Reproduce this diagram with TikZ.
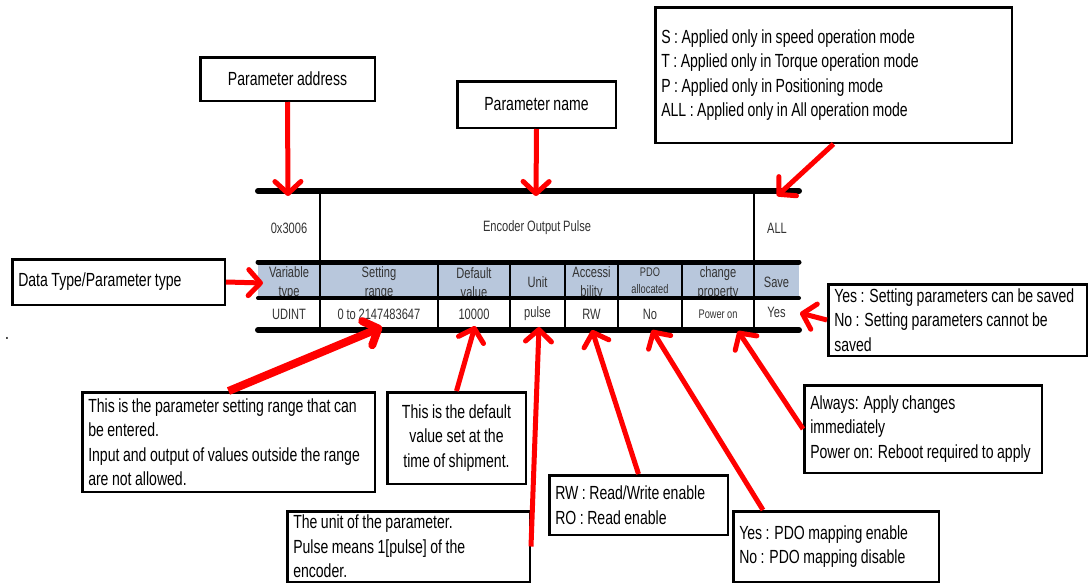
\documentclass[tikz,border=0pt]{standalone}
\usepackage{fontspec}
\setmainfont{Liberation Sans}[FakeStretch=0.74, WordSpace=0.9]
\usepackage{xcolor}
\usetikzlibrary{arrows.meta,positioning,calc}
\definecolor{hdrblue}{RGB}{184,199,220}
\newcommand{\notefont}{\fontsize{19}{24.5}\selectfont}
\newcommand{\cellfont}{\fontsize{15}{19}\selectfont}
\newcommand{\smallcellfont}{\fontsize{12.5}{17}\selectfont}

\begin{document}
\begin{tikzpicture}[
  x=1pt, y=-1pt,
  note/.style={draw, line width=2.5pt, align=flush left, inner xsep=6pt, inner ysep=0pt,
               font=\notefont},
  cnote/.style={note, align=flush center},
  cell/.style={inner sep=0pt, align=center, font=\cellfont, text=black!80},
  bar/.style={line width=6pt, line cap=round},
  sep/.style={line width=1.2pt},
  ar/.style={red, line width=5pt, -{Straight Barb[length=12pt, width=26pt, round]}}
]
  \useasboundingbox (0,0) rectangle (1090,584);
  \fill[white] (0,0) rectangle (1090,584);

  \node[cnote, text width=162.5pt, minimum height=43.5pt] (paddr) at (287.5,79) {Parameter address};
  \node[cnote, text width=146.5pt, minimum height=46.5pt] (pname) at (536.5,104.5) {Parameter name};
  \node[note, text width=344.5pt, minimum height=135.5pt] (modes) at (833.5,75)
    {S : Applied only in speed operation mode\\T : Applied only in Torque operation mode\\
     P : Applied only in Positioning mode\\ALL : Applied only in All operation mode};
  \node[note, text width=200.5pt, minimum height=45.5pt] (dtype) at (118.5,282) {Data Type/Parameter type};
  \node[note, text width=246.5pt, minimum height=71.5pt] (savenote) at (957.5,320)
    {Yes : Setting parameters can be saved\\No : Setting parameters cannot be\\saved};
  \node[note, text width=280.5pt, minimum height=99.5pt] (rng) at (228.5,442)
    {This is the parameter setting range that can\\be entered.\\
     Input and output of values outside the range\\are not allowed.};
  \node[cnote, text width=126.5pt, minimum height=91.5pt] (defval) at (456.5,438)
    {This is the default\\value set at the\\time of shipment.};
  \node[note, text width=230.5pt, minimum height=70.5pt] (unitnote) at (408.5,546.5)
    {The unit of the parameter.\\Pulse means 1[pulse] of the\\encoder.};
  \node[note, text width=166.5pt, minimum height=59.5pt] (rwnote) at (638.5,505)
    {RW : Read/Write enable\\RO : Read enable};
  \node[note, text width=193.5pt, minimum height=70.5pt] (pdonote) at (836,546.5)
    {Yes : PDO mapping enable\\No : PDO mapping disable};
  \node[note, text width=225.5pt, minimum height=87.5pt] (chgnote) at (923,429)
    {Always: Apply changes\\immediately\\Power on: Reboot required to apply};
  \node[anchor=base, inner sep=0pt, font=\notefont] (stray) at (7,339) {.};

  \fill[hdrblue] (258,264) rectangle (799,297);
  \node[cell] (addr) at (289,228) {0x3006};
  \node[cell] (name) at (537,228) {Encoder Output Pulse};
  \node[cell] (mode) at (777,228) {ALL};
  \node[cell] (hvar) at (289,283) {Variable\\type};
  \node[cell] (hrng) at (379,283) {Setting\\range};
  \node[cell] (hdef) at (474,283) {Default\\value};
  \node[cell] (hunit) at (537.5,282) {Unit};
  \node[cell] (hacc) at (591.5,283) {Accessi\\bility};
  \node[cell, font=\smallcellfont] (hpdo) at (650,281) {PDO\\allocated};
  \node[cell] (hchg) at (718,283) {change\\property};
  \node[cell] (hsave) at (776.5,282) {Save};
  \node[cell] (dvar) at (289,314) {UDINT};
  \node[cell] (drng) at (379,314) {0 to 2147483647};
  \node[cell] (ddef) at (474,314) {10000};
  \node[cell] (dunit) at (537.5,314) {pulse};
  \node[cell] (dacc) at (591.5,314) {RW};
  \node[cell] (dpdo) at (650,314) {No};
  \node[cell, font=\smallcellfont] (dchg) at (718,314) {Power on};
  \node[cell] (dsave) at (776.5,312) {Yes};

  \foreach \x in {320,754} \draw[sep] (\x,191) -- (\x,262);
  \foreach \x in {320,438,510,565,618,682,754} \draw[sep] (\x,262) -- (\x,330);
  \draw[bar] (258,191) -- (799,191);
  \draw[bar, line width=5pt] (258,262) -- (799,262);
  \draw[bar, line width=4pt] (258,298) -- (799,298);
  \draw[bar] (258,330) -- (799,330);

  \coordinate (addrtip) at (288,196);
  \coordinate (nametip) at (536,196);
  \coordinate (modetip) at (777,196);
  \coordinate (vartip) at (263,283);
  \coordinate (rngtip) at (382,327);
  \coordinate (deftip) at (475,326);
  \coordinate (unittip) at (539,327);
  \coordinate (acctip) at (592,330);
  \coordinate (pdotip) at (652,330);
  \coordinate (chgtip) at (738,331);
  \coordinate (savetip) at (800,313);

  \draw[ar] (paddr.south) -- (addrtip);
  \draw[ar] (pname.south) -- (nametip);
  \draw[ar] (modes.south) -- (modetip);
  \draw[ar] (dtype.east) -- (vartip);
  \draw[ar, line width=8pt] (rng.north) -- (rngtip);
  \draw[ar] (defval.north) -- (deftip);
  \draw[ar] (unitnote.east) -- (unittip);
  \draw[ar] (rwnote.north) -- (acctip);
  \draw[ar] ([xshift=31pt]pdonote.north west) -- (pdotip);
  \draw[ar] (chgnote.west) -- (chgtip);
  \draw[ar] (savenote.west) -- (savetip);
\end{tikzpicture}
\end{document}
